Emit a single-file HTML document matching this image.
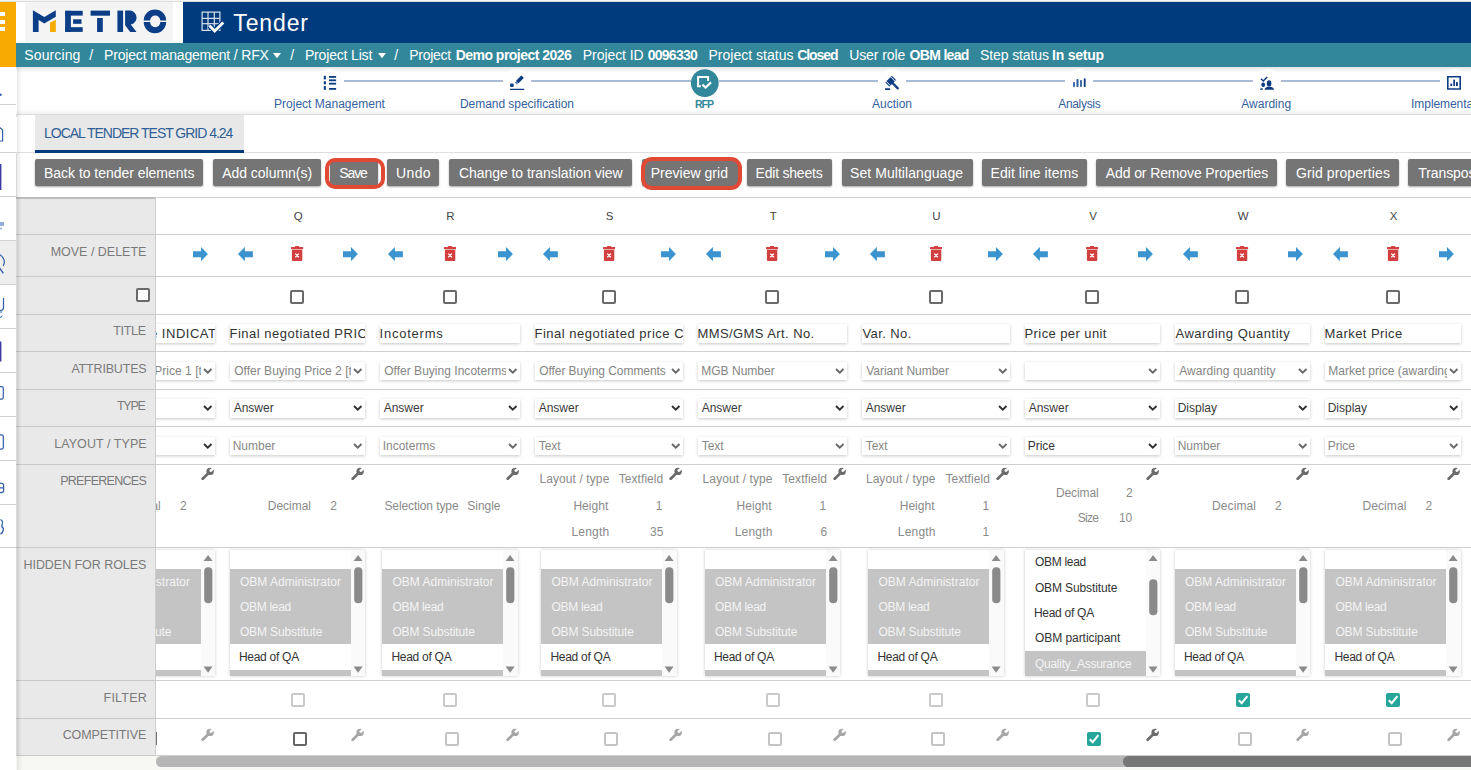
<!DOCTYPE html>
<html><head><meta charset="utf-8"><title>Tender</title>
<style>
html,body{margin:0;padding:0;width:1471px;height:770px;overflow:hidden;background:#fff;position:relative;font-family:"Liberation Sans", sans-serif}
.t{position:absolute;white-space:nowrap;line-height:1;font-family:"Liberation Sans", sans-serif}
</style></head><body>
<div style="position:absolute;left:0px;top:0px;width:1471px;height:1px;background:#f6f6f6"></div>
<div style="position:absolute;left:0px;top:1px;width:1471px;height:1px;background:#dcdcdc"></div>
<div style="position:absolute;left:0px;top:2px;width:16px;height:65px;background:#f8aa00"></div>
<div style="position:absolute;left:0px;top:12.4px;width:4.5px;height:4.1px;background:#fff"></div>
<div style="position:absolute;left:0px;top:19.7px;width:4.5px;height:4.1px;background:#fff"></div>
<div style="position:absolute;left:0px;top:27px;width:4.5px;height:4.1px;background:#fff"></div>
<div style="position:absolute;left:16px;top:2px;width:167px;height:41px;background:#fff"></div>
<div style="position:absolute;left:25px;top:2px;width:148px;height:40px;background:#f4f4f4"></div>
<svg style="position:absolute;left:0;top:0" width="200" height="45" viewBox="0 0 200 45">
<g fill="#0b3e86">
<polygon points="32.9,10.3 44.3,17 55.8,10.3 55.8,16.8 44.3,23.4 38.6,20.1 38.6,31.9 32.9,31.9"/>
<rect x="65.1" y="10.8" width="17.6" height="4.8"/>
<rect x="65.1" y="10.8" width="5.8" height="21.1"/>
<rect x="73.1" y="19.3" width="8.4" height="4.5"/>
<rect x="65.1" y="27.2" width="17.6" height="4.7"/>
<rect x="90.6" y="10.6" width="19.4" height="5.1"/>
<rect x="97.1" y="18" width="5.7" height="14"/>
<rect x="117.4" y="10.6" width="5.7" height="21.4"/>
<path d="M125.1,10.6 H130.5 A7.1,7.1 0 0 1 130.8,24.6 L136.5,32 H130.2 L125.1,25.2 Z M125.1,10.6"/>
<path d="M143.7,20.6 A11.25,11.1 0 0 1 166.2,20.6 H160.3 A5.1,5.1 0 0 0 150.1,20.6 Z"/>
<path d="M143.7,22.1 A11.25,11.1 0 0 0 166.2,22.1 H160.3 A5.1,5.1 0 0 1 150.1,22.1 Z"/>
</g>
<polygon fill="#f5ab00" points="50,22.4 55.8,19.7 55.8,31.9 50,31.9"/>
</svg>
<div style="position:absolute;left:183px;top:2px;width:1288px;height:41px;background:#003b7e"></div>
<svg style="position:absolute;left:200px;top:10px" width="26" height="24" viewBox="0 0 26 24">
<g stroke="#fff" stroke-width="1.2" fill="none" opacity="0.85">
<rect x="2.1" y="2.1" width="17.8" height="18.3"/>
<line x1="8" y1="2.1" x2="8" y2="20.4"/><line x1="14.3" y1="2.1" x2="14.3" y2="20.4"/>
<line x1="2.1" y1="8.4" x2="19.9" y2="8.4"/><line x1="2.1" y1="13.7" x2="19.9" y2="13.7"/>
</g>
<path d="M9.4,15.5 L14.7,20.9 L23.3,12.4" stroke="#003b7e" stroke-width="5" fill="none"/>
<path d="M9.4,15.5 L14.7,20.9 L23.3,12.4" stroke="#fff" stroke-width="2.8" fill="none"/>
</svg>
<div class="t" style="left:233.30px;top:12.00px;font-size:23px;color:#fff;letter-spacing:0.880px;">Tender</div>
<div style="position:absolute;left:16px;top:43px;width:1455px;height:24px;background:#33879b"></div>
<div class="t" style="left:24.30px;top:48.00px;font-size:14px;color:#fff;letter-spacing:0.114px;">Sourcing</div>
<div class="t" style="left:89.20px;top:48.00px;font-size:14px;color:#fff;">/</div>
<div class="t" style="left:104.00px;top:48.00px;font-size:14px;color:#fff;letter-spacing:-0.174px;">Project management / RFX</div>
<div class="t" style="left:290.30px;top:48.00px;font-size:14px;color:#fff;">/</div>
<div class="t" style="left:304.90px;top:48.00px;font-size:14px;color:#fff;letter-spacing:-0.164px;">Project List</div>
<div class="t" style="left:394.30px;top:48.00px;font-size:14px;color:#fff;">/</div>
<div class="t" style="left:409.20px;top:48.00px;font-size:14px;color:#fff;letter-spacing:-0.267px;">Project</div>
<div class="t" style="left:455.70px;top:48.00px;font-size:14px;color:#fff;font-weight:bold;letter-spacing:-0.525px;">Demo project 2026</div>
<div class="t" style="left:582.80px;top:48.00px;font-size:14px;color:#fff;letter-spacing:-0.067px;">Project ID</div>
<div class="t" style="left:647.70px;top:48.00px;font-size:14px;color:#fff;font-weight:bold;letter-spacing:-0.733px;">0096330</div>
<div class="t" style="left:708.50px;top:48.00px;font-size:14px;color:#fff;letter-spacing:0.015px;">Project status</div>
<div class="t" style="left:797.20px;top:48.00px;font-size:14px;color:#fff;font-weight:bold;letter-spacing:-1.080px;">Closed</div>
<div class="t" style="left:849.20px;top:48.00px;font-size:14px;color:#fff;letter-spacing:-0.100px;">User role</div>
<div class="t" style="left:909.60px;top:48.00px;font-size:14px;color:#fff;font-weight:bold;letter-spacing:-0.686px;">OBM lead</div>
<div class="t" style="left:980.10px;top:48.00px;font-size:14px;color:#fff;letter-spacing:-0.120px;">Step status</div>
<div class="t" style="left:1052.10px;top:48.00px;font-size:14px;color:#fff;font-weight:bold;letter-spacing:-0.229px;">In setup</div>
<svg style="position:absolute;left:273.3px;top:52.5px" width="8" height="5.5" viewBox="0 0 8 5.5"><polygon points="0,0 8,0 4,5.2" fill="#fff"/></svg>
<svg style="position:absolute;left:378px;top:52.5px" width="8" height="5.5" viewBox="0 0 8 5.5"><polygon points="0,0 8,0 4,5.2" fill="#fff"/></svg>
<div style="position:absolute;left:0px;top:67px;width:16px;height:703px;background:#fff"></div>
<div style="position:absolute;left:0px;top:240px;width:16px;height:44px;background:#eeeeee"></div>
<div style="position:absolute;left:0px;top:104px;width:16px;height:1px;background:#d2d2d2"></div>
<div style="position:absolute;left:0px;top:152px;width:16px;height:1px;background:#d2d2d2"></div>
<div style="position:absolute;left:0px;top:196px;width:16px;height:1px;background:#d2d2d2"></div>
<div style="position:absolute;left:0px;top:240px;width:16px;height:1px;background:#d2d2d2"></div>
<div style="position:absolute;left:0px;top:284px;width:16px;height:1px;background:#d2d2d2"></div>
<div style="position:absolute;left:0px;top:328px;width:16px;height:1px;background:#d2d2d2"></div>
<div style="position:absolute;left:0px;top:372px;width:16px;height:1px;background:#d2d2d2"></div>
<div style="position:absolute;left:0px;top:416px;width:16px;height:1px;background:#d2d2d2"></div>
<div style="position:absolute;left:0px;top:460px;width:16px;height:1px;background:#d2d2d2"></div>
<div style="position:absolute;left:0px;top:504px;width:16px;height:1px;background:#d2d2d2"></div>
<div style="position:absolute;left:0px;top:547px;width:16px;height:1px;background:#d2d2d2"></div>
<svg style="position:absolute;left:0;top:0" width="16" height="560" viewBox="0 0 16 560">
<g fill="none" stroke="#2f5ea8" stroke-width="1.2">
<circle cx="0.4" cy="94.7" r="1.3" fill="#2f5ea8" stroke="none"/>
<path d="M-1,126.8 L2.6,130 V141 H-1" stroke-linejoin="round"/>
<path d="M-1,222 H4 V226 H-1 Z" fill="#8fb0dd" stroke="none"/><path d="M-1,228.5 H2" stroke="#8fb0dd" stroke-width="1.5"/>
<path d="M-2,254.2 A8,8 0 0 1 3.2,266" /><path d="M-0.5,268 L3.4,273.3" stroke-width="1.4"/>
<path d="M3.5,298 V307.5 Q3.5,310.5 0.5,310.5 H-1"/><path d="M2.2,312 H-1 M2.2,315.5 Q2.2,317.5 -1,317.3" stroke-width="1"/>
<path d="M-1,386.6 H1.6 Q3.3,386.6 3.3,388.3 V397.6 Q3.3,399.2 1.6,399.2 H-1"/>
<path d="M-1,434.8 H1.6 Q3.3,434.8 3.3,436.5 V447.5 Q3.3,449.1 1.6,449.1 H-1"/>
<path d="M-1,483.2 Q3.6,483.2 3.6,485 V491.2 Q3.6,492.7 -1,492.7 M-1,487.8 H3.6"/>
<path d="M0.5,519.5 Q3.4,521 2.2,524 Q1,526.8 3.4,528.5 Q3.6,532 0.5,534.2"/>
</g>
<rect x="0" y="164" width="1.4" height="26" fill="#3c3aa3"/>
<rect x="0" y="341.5" width="1.4" height="20" fill="#3c3aa3"/>
</svg>
<div style="position:absolute;left:16px;top:67px;width:1px;height:703px;background:#d9d9d9"></div>
<div style="position:absolute;left:16px;top:67px;width:1455px;height:47px;background:#fff"></div>
<div style="position:absolute;left:16px;top:67px;width:1455px;height:6px;background:linear-gradient(to bottom, rgba(0,0,0,0.10), rgba(0,0,0,0))"></div>
<div style="position:absolute;left:330px;top:80px;width:1130px;height:2px;background:#a9bcd6"></div>
<div style="position:absolute;left:315.8px;top:69px;width:28px;height:28px;background:rgba(255,255,255,0.8);border-radius:50%"></div>
<div style="position:absolute;left:315.8px;top:78px;width:28px;height:6px;background:#fff"></div>
<div style="position:absolute;left:503px;top:69px;width:28px;height:28px;background:rgba(255,255,255,0.8);border-radius:50%"></div>
<div style="position:absolute;left:503px;top:78px;width:28px;height:6px;background:#fff"></div>
<div style="position:absolute;left:690.5px;top:69px;width:28px;height:28px;background:rgba(255,255,255,0.8);border-radius:50%"></div>
<div style="position:absolute;left:690.5px;top:78px;width:28px;height:6px;background:#fff"></div>
<div style="position:absolute;left:878px;top:69px;width:28px;height:28px;background:rgba(255,255,255,0.8);border-radius:50%"></div>
<div style="position:absolute;left:878px;top:78px;width:28px;height:6px;background:#fff"></div>
<div style="position:absolute;left:1065.2px;top:69px;width:28px;height:28px;background:rgba(255,255,255,0.8);border-radius:50%"></div>
<div style="position:absolute;left:1065.2px;top:78px;width:28px;height:6px;background:#fff"></div>
<div style="position:absolute;left:1253px;top:69px;width:28px;height:28px;background:rgba(255,255,255,0.8);border-radius:50%"></div>
<div style="position:absolute;left:1253px;top:78px;width:28px;height:6px;background:#fff"></div>
<div style="position:absolute;left:1440px;top:69px;width:28px;height:28px;background:rgba(255,255,255,0.8);border-radius:50%"></div>
<div style="position:absolute;left:1440px;top:78px;width:28px;height:6px;background:#fff"></div>
<div style="position:absolute;left:16px;top:114px;width:1455px;height:1.2px;background:#dcdcdc"></div>
<div style="position:absolute;left:16px;top:109px;width:1455px;height:5px;background:linear-gradient(to bottom, rgba(0,0,0,0), rgba(0,0,0,0.06))"></div>
<svg style="position:absolute;left:0;top:60px" width="1471" height="40" viewBox="0 60 1471 40">
<g fill="#0d3c82">
<rect x="323.8" y="75.8" width="2.1" height="3.6"/><rect x="323.8" y="81.2" width="2.1" height="3.2"/><rect x="323.8" y="86.1" width="2.1" height="3.7"/>
<rect x="329" y="76" width="7.1" height="1.8"/><rect x="329" y="79.4" width="7.1" height="1.6"/><rect x="329" y="83" width="7.1" height="1.6"/><rect x="329" y="88" width="7.1" height="1.8"/>
<rect x="329" y="81" width="7.1" height="2" fill="#c9d5e4"/>
<rect x="510.1" y="83.5" width="3.6" height="3.5" rx="1"/>
<g transform="translate(519.2,80) rotate(-45)"><rect x="-2.8" y="-1.8" width="7.6" height="3.6" rx="0.8"/><rect x="-4.9" y="-1.3" width="2.3" height="2.6" fill="#5d7fb3"/></g>
<rect x="510" y="88.8" width="14.4" height="1.3" rx="0.6"/>
<g transform="translate(890.6,81.2) rotate(-45)"><rect x="-4.7" y="-3" width="9.4" height="6" rx="0.6"/><rect x="-1.1" y="2" width="2.3" height="9.2" rx="1"/></g>
<g transform="translate(890.6,81.2) rotate(-45)" fill="#fff"><rect x="-3.5" y="-3.2" width="0.7" height="6.4"/><rect x="2.8" y="-3.2" width="0.7" height="6.4"/></g>
<rect x="885" y="88.2" width="5.2" height="1.7" rx="0.5"/>
<rect x="1073.1" y="82" width="1.8" height="4.9" rx="0.6" fill="#2f5c9c"/><rect x="1076.5" y="79.1" width="2" height="7.8" rx="0.6" fill="#2f5c9c"/><rect x="1080.1" y="80.1" width="1.8" height="6.8" rx="0.6" fill="#2f5c9c"/><rect x="1083.8" y="78.3" width="1.8" height="8.6" rx="0.6"/>
<path d="M1261,78.8 L1263.3,81 L1267.2,77" stroke="#0d3c82" stroke-width="1.5" fill="none"/>
<ellipse cx="1263.2" cy="84.8" rx="1.9" ry="2.2"/>
<path d="M1259.8,89.8 Q1260,88 1262.4,87.9 L1263,89.8 Z"/>
<ellipse cx="1269.1" cy="83.4" rx="2.3" ry="3.2"/>
<path d="M1264.6,89.8 Q1264.8,86.8 1269.2,86.7 Q1273.8,86.8 1274,89.8 Z"/>
<path d="M1447,76 H1461 V89.8 H1447 Z M1448.6,77.6 V88.2 H1459.4 V77.6 Z" fill-rule="evenodd"/>
<rect x="1450.4" y="83.6" width="1.8" height="2.3" rx="0.5"/><rect x="1453.3" y="79.4" width="1.7" height="6.5" rx="0.5"/><rect x="1456" y="82" width="1.9" height="3.9" rx="0.5"/>
</g>
<circle cx="704.8" cy="83.1" r="13.9" fill="#33879b"/>
<path d="M700.9,86.2 H698.1 V77 H708.1 V81" stroke="#fff" stroke-width="2" fill="none"/>
<path d="M702.4,84.6 L705.6,87.6 L711,82.4" stroke="#fff" stroke-width="2.2" fill="none"/>
</svg>
<div class="t" style="left:274.00px;top:98.00px;font-size:12px;color:#3561a0;letter-spacing:0.012px;">Project Management</div>
<div class="t" style="left:459.90px;top:98.00px;font-size:12px;color:#3561a0;letter-spacing:-0.032px;">Demand specification</div>
<div class="t" style="left:872.00px;top:98.00px;font-size:12px;color:#3561a0;">Auction</div>
<div class="t" style="left:1058.20px;top:98.00px;font-size:12px;color:#3561a0;letter-spacing:-0.314px;">Analysis</div>
<div class="t" style="left:1241.30px;top:98.00px;font-size:12px;color:#3561a0;">Awarding</div>
<div class="t" style="left:695.00px;top:99.00px;font-size:10.5px;color:#33879b;font-weight:bold;letter-spacing:-1.000px;">RFP</div>
<div class="t" style="left:1411.10px;top:98.00px;font-size:12px;color:#3561a0;letter-spacing:-0.071px;">Implementation</div>
<div style="position:absolute;left:16px;top:117px;width:1455px;height:36px;background:#fff"></div>
<div style="position:absolute;left:35px;top:115.3px;width:208.6px;height:35px;background:#e8e8e8"></div>
<div style="position:absolute;left:16px;top:152px;width:1455px;height:1px;background:#dedede"></div>
<div style="position:absolute;left:35px;top:150px;width:208.6px;height:2.6px;background:#003b7e"></div>
<div class="t" style="left:44.00px;top:126.00px;font-size:14px;color:#2f5f96;letter-spacing:-1.015px;">LOCAL TENDER TEST GRID 4.24</div>
<div style="position:absolute;left:34.8px;top:159.2px;width:168.4px;height:26.8px;background:#757575;border-radius:2px;box-shadow:0 1px 2px rgba(0,0,0,0.35)"></div>
<div class="t" style="left:44.00px;top:166.00px;font-size:14px;color:#fff;letter-spacing:-0.027px;">Back to tender elements</div>
<div style="position:absolute;left:213.1px;top:159.2px;width:107.9px;height:26.8px;background:#757575;border-radius:2px;box-shadow:0 1px 2px rgba(0,0,0,0.35)"></div>
<div class="t" style="left:222.20px;top:166.00px;font-size:14px;color:#fff;letter-spacing:-0.033px;">Add column(s)</div>
<div style="position:absolute;left:330.4px;top:159.2px;width:47.4px;height:26.8px;background:#757575;border-radius:2px;box-shadow:0 1px 2px rgba(0,0,0,0.35)"></div>
<div class="t" style="left:339.30px;top:166.00px;font-size:14px;color:#fff;letter-spacing:-1.133px;">Save</div>
<div style="position:absolute;left:387.1px;top:159.2px;width:51.9px;height:26.8px;background:#757575;border-radius:2px;box-shadow:0 1px 2px rgba(0,0,0,0.35)"></div>
<div class="t" style="left:396.10px;top:166.00px;font-size:14px;color:#fff;letter-spacing:0.333px;">Undo</div>
<div style="position:absolute;left:448.8px;top:159.2px;width:183.2px;height:26.8px;background:#757575;border-radius:2px;box-shadow:0 1px 2px rgba(0,0,0,0.35)"></div>
<div class="t" style="left:458.90px;top:166.00px;font-size:14px;color:#fff;letter-spacing:-0.048px;">Change to translation view</div>
<div style="position:absolute;left:642px;top:159.2px;width:95.8px;height:26.8px;background:#757575;border-radius:2px;box-shadow:0 1px 2px rgba(0,0,0,0.35)"></div>
<div class="t" style="left:650.70px;top:166.00px;font-size:14px;color:#fff;letter-spacing:0.018px;">Preview grid</div>
<div style="position:absolute;left:747.2px;top:159.2px;width:84.8px;height:26.8px;background:#757575;border-radius:2px;box-shadow:0 1px 2px rgba(0,0,0,0.35)"></div>
<div class="t" style="left:755.60px;top:166.00px;font-size:14px;color:#fff;letter-spacing:-0.220px;">Edit sheets</div>
<div style="position:absolute;left:841.5px;top:159.2px;width:131.1px;height:26.8px;background:#757575;border-radius:2px;box-shadow:0 1px 2px rgba(0,0,0,0.35)"></div>
<div class="t" style="left:850.00px;top:166.00px;font-size:14px;color:#fff;letter-spacing:0.062px;">Set Multilanguage</div>
<div style="position:absolute;left:982.1px;top:159.2px;width:104.7px;height:26.8px;background:#757575;border-radius:2px;box-shadow:0 1px 2px rgba(0,0,0,0.35)"></div>
<div class="t" style="left:990.60px;top:166.00px;font-size:14px;color:#fff;letter-spacing:0.029px;">Edit line items</div>
<div style="position:absolute;left:1096.3px;top:159.2px;width:180.5px;height:26.8px;background:#757575;border-radius:2px;box-shadow:0 1px 2px rgba(0,0,0,0.35)"></div>
<div class="t" style="left:1105.80px;top:166.00px;font-size:14px;color:#fff;letter-spacing:-0.113px;">Add or Remove Properties</div>
<div style="position:absolute;left:1286.3px;top:159.2px;width:112.5px;height:26.8px;background:#757575;border-radius:2px;box-shadow:0 1px 2px rgba(0,0,0,0.35)"></div>
<div class="t" style="left:1296.10px;top:166.00px;font-size:14px;color:#fff;letter-spacing:0.086px;">Grid properties</div>
<div style="position:absolute;left:1408.3px;top:159.2px;width:151.7px;height:26.8px;background:#757575;border-radius:2px;box-shadow:0 1px 2px rgba(0,0,0,0.35)"></div>
<div class="t" style="left:1418.30px;top:166.00px;font-size:14px;color:#fff;letter-spacing:-0.092px;">Transpose</div>
<div style="position:absolute;left:325.2px;top:158.1px;width:59.5px;height:30.9px;box-sizing:border-box;border:4px solid #e04a35;border-radius:10px"></div>
<div style="position:absolute;left:641.2px;top:157.1px;width:100.4px;height:33.4px;box-sizing:border-box;border:4px solid #e04a35;border-radius:11px"></div>
<div style="position:absolute;left:16px;top:197px;width:1455px;height:558px;background:#fff"></div>
<div style="position:absolute;left:16px;top:197px;width:1455px;height:1.3px;background:#cfcfcf"></div>
<div style="position:absolute;left:16px;top:234px;width:1455px;height:1.3px;background:#cfcfcf"></div>
<div style="position:absolute;left:16px;top:276px;width:1455px;height:1.3px;background:#cfcfcf"></div>
<div style="position:absolute;left:16px;top:314px;width:1455px;height:1.3px;background:#cfcfcf"></div>
<div style="position:absolute;left:16px;top:351px;width:1455px;height:1.3px;background:#cfcfcf"></div>
<div style="position:absolute;left:16px;top:389px;width:1455px;height:1.3px;background:#cfcfcf"></div>
<div style="position:absolute;left:16px;top:426px;width:1455px;height:1.3px;background:#cfcfcf"></div>
<div style="position:absolute;left:16px;top:464px;width:1455px;height:1.3px;background:#cfcfcf"></div>
<div style="position:absolute;left:16px;top:547px;width:1455px;height:1.3px;background:#cfcfcf"></div>
<div style="position:absolute;left:16px;top:680px;width:1455px;height:1.3px;background:#cfcfcf"></div>
<div style="position:absolute;left:16px;top:718px;width:1455px;height:1.3px;background:#cfcfcf"></div>
<div style="position:absolute;left:16px;top:755px;width:1455px;height:1.3px;background:#cfcfcf"></div>
<svg style="position:absolute;left:88.1px;top:246.7px" width="15" height="14.2" viewBox="0 0 15 14.2"><path d="M0,7.1 L6.9,0 L6.9,4.3 L14.9,4.3 L14.9,10.3 L6.9,10.3 L6.9,14.2 Z" fill="#3b93cf"/></svg>
<svg style="position:absolute;left:141.4px;top:246.2px" width="12.2" height="15.2" viewBox="0 0 12.2 15.2"><rect x="4" y="0" width="4.2" height="1.5" rx="0.6" fill="#d23f3f"/><rect x="0" y="0.9" width="12.2" height="2.3" rx="0.8" fill="#d23f3f"/><path d="M0.9,3.7 H11.3 V13.6 Q11.3,15.2 9.7,15.2 H2.5 Q0.9,15.2 0.9,13.6 Z" fill="#d23f3f"/><path d="M4.3,7.6 L7.9,11.2 M7.9,7.6 L4.3,11.2" stroke="#fff" stroke-width="1.3"/></svg>
<svg style="position:absolute;left:192.6px;top:246.7px" width="15" height="14.2" viewBox="0 0 15 14.2"><path d="M14.9,7.1 L8,0 L8,4.3 L0,4.3 L0,10.3 L8,10.3 L8,14.2 Z" fill="#3b93cf"/></svg>
<div style="position:absolute;left:140.3px;top:289.6px;width:14px;height:14px;box-sizing:border-box;border:2px solid #6a6a6a;border-radius:2px;background:#fff"></div>
<div style="position:absolute;left:80px;top:324.4px;width:135px;height:18.7px;background:#fff;box-shadow:0 1px 3px rgba(0,0,0,0.22);overflow:hidden">
<div style="position:absolute;left:0;top:0;width:135px;height:18.7px;overflow:hidden">
<div class="t" style="left:70.00px;top:2.60px;font-size:13px;color:#333;letter-spacing:0.511px;">e INDICATIVE</div>
</div>
</div>
<div style="position:absolute;left:80px;top:362.2px;width:135px;height:18px;background:#fff;box-shadow:0 1px 3px rgba(0,0,0,0.22);overflow:hidden">
<div style="position:absolute;left:0;top:0;width:121px;height:18px;overflow:hidden">
<div class="t" style="left:4.20px;top:2.80px;font-size:12px;color:#858585;letter-spacing:0.023px;">Offer Buying Price 1 [t</div>
</div>
<svg style="position:absolute;left:123px;top:5.9px" width="9.5" height="6" viewBox="0 0 9.5 6"><path d="M1,1 L4.75,4.6 L8.5,1" stroke="#6a6a6a" stroke-width="2" fill="none"/></svg>
</div>
<div style="position:absolute;left:80px;top:399px;width:135px;height:19px;background:#fff;box-shadow:0 1px 3px rgba(0,0,0,0.22);overflow:hidden">
<svg style="position:absolute;left:123px;top:6.4px" width="9.5" height="6" viewBox="0 0 9.5 6"><path d="M1,1 L4.75,4.6 L8.5,1" stroke="#333" stroke-width="2" fill="none"/></svg>
</div>
<div style="position:absolute;left:80px;top:436.8px;width:135px;height:18.6px;background:#fff;box-shadow:0 1px 3px rgba(0,0,0,0.22);overflow:hidden">
<svg style="position:absolute;left:123px;top:6.2px" width="9.5" height="6" viewBox="0 0 9.5 6"><path d="M1,1 L4.75,4.6 L8.5,1" stroke="#333" stroke-width="2" fill="none"/></svg>
</div>
<svg style="position:absolute;left:200.8px;top:466.8px" width="13.5" height="13.5" viewBox="0 0 13.5 13.5"><path d="M1.7,11.8 L7,6.5" stroke="#6b6b6b" stroke-width="2.7" stroke-linecap="round"/><circle cx="9.1" cy="4.4" r="3.7" fill="#6b6b6b"/><circle cx="9.9" cy="3.6" r="1.45" fill="#fff"/><rect x="-1.2" y="-4.5" width="2.4" height="4.5" fill="#fff" transform="translate(9.9,3.6) rotate(45)"/></svg>
<div style="position:absolute;left:79.9px;top:549.7px;width:135.2px;height:126.7px;background:#fff;box-shadow:0 0 3px rgba(0,0,0,0.22);overflow:hidden">
<div style="position:absolute;right:0;top:0;width:14.2px;height:126.7px;background:#fafafa"></div>
<div style="position:absolute;left:0;top:19.1px;width:121px;height:75.5px;background:#c4c4c4"></div>
<div style="position:absolute;left:0;top:120.5px;width:121px;height:8px;background:#c4c4c4"></div>
<div class="t" style="left:9.00px;top:26.30px;font-size:12px;color:#f4f4f4;letter-spacing:0.025px;">OBM Administrator</div>
<div class="t" style="left:9.00px;top:51.30px;font-size:12px;color:#f4f4f4;letter-spacing:-0.286px;">OBM lead</div>
<div class="t" style="left:9.00px;top:76.30px;font-size:12px;color:#f4f4f4;letter-spacing:-0.123px;">OBM Substitute</div>
<div class="t" style="left:8.00px;top:101.30px;font-size:12px;color:#333;letter-spacing:-0.267px;">Head of QA</div>
<svg style="position:absolute;left:121px;top:0" width="14.2" height="126.7" viewBox="0 0 14.2 126.7"><polygon points="2.6,11 7.1,4.9 11.6,11" fill="#8a8a8a"/><polygon points="2.6,116.6 7.1,122.8 11.6,116.6" fill="#8a8a8a"/><rect x="3.2" y="17.2" width="8.2" height="36" rx="4" fill="#8a8a8a"/></svg>
</div>
<div style="position:absolute;left:140.5px;top:693.2px;width:14px;height:14px;box-sizing:border-box;border:2px solid #c9c9c9;border-radius:2px;background:#fff"></div>
<div style="position:absolute;left:142.6px;top:731.8px;width:14px;height:14px;box-sizing:border-box;border:2px solid #c4c4c4;border-radius:2px;background:#fff"></div>
<svg style="position:absolute;left:200.8px;top:728.4px" width="13.5" height="13.5" viewBox="0 0 13.5 13.5"><path d="M1.7,11.8 L7,6.5" stroke="#a6a6a6" stroke-width="2.7" stroke-linecap="round"/><circle cx="9.1" cy="4.4" r="3.7" fill="#a6a6a6"/><circle cx="9.9" cy="3.6" r="1.45" fill="#fff"/><rect x="-1.2" y="-4.5" width="2.4" height="4.5" fill="#fff" transform="translate(9.9,3.6) rotate(45)"/></svg>
<div class="t" style="left:293.80px;top:211.00px;font-size:11.5px;color:#444;">Q</div>
<svg style="position:absolute;left:238.1px;top:246.7px" width="15" height="14.2" viewBox="0 0 15 14.2"><path d="M0,7.1 L6.9,0 L6.9,4.3 L14.9,4.3 L14.9,10.3 L6.9,10.3 L6.9,14.2 Z" fill="#3b93cf"/></svg>
<svg style="position:absolute;left:291.4px;top:246.2px" width="12.2" height="15.2" viewBox="0 0 12.2 15.2"><rect x="4" y="0" width="4.2" height="1.5" rx="0.6" fill="#d23f3f"/><rect x="0" y="0.9" width="12.2" height="2.3" rx="0.8" fill="#d23f3f"/><path d="M0.9,3.7 H11.3 V13.6 Q11.3,15.2 9.7,15.2 H2.5 Q0.9,15.2 0.9,13.6 Z" fill="#d23f3f"/><path d="M4.3,7.6 L7.9,11.2 M7.9,7.6 L4.3,11.2" stroke="#fff" stroke-width="1.3"/></svg>
<svg style="position:absolute;left:342.6px;top:246.7px" width="15" height="14.2" viewBox="0 0 15 14.2"><path d="M14.9,7.1 L8,0 L8,4.3 L0,4.3 L0,10.3 L8,10.3 L8,14.2 Z" fill="#3b93cf"/></svg>
<div style="position:absolute;left:290.3px;top:289.6px;width:14px;height:14px;box-sizing:border-box;border:2px solid #6a6a6a;border-radius:2px;background:#fff"></div>
<div style="position:absolute;left:230px;top:324.4px;width:135px;height:18.7px;background:#fff;box-shadow:0 1px 3px rgba(0,0,0,0.22);overflow:hidden">
<div style="position:absolute;left:0;top:0;width:135px;height:18.7px;overflow:hidden">
<div class="t" style="left:-0.50px;top:2.60px;font-size:13px;color:#333;letter-spacing:0.511px;">Final negotiated PRICE</div>
</div>
</div>
<div style="position:absolute;left:230px;top:362.2px;width:135px;height:18px;background:#fff;box-shadow:0 1px 3px rgba(0,0,0,0.22);overflow:hidden">
<div style="position:absolute;left:0;top:0;width:121px;height:18px;overflow:hidden">
<div class="t" style="left:4.20px;top:2.80px;font-size:12px;color:#858585;letter-spacing:0.023px;">Offer Buying Price 2 [t</div>
</div>
<svg style="position:absolute;left:123px;top:5.9px" width="9.5" height="6" viewBox="0 0 9.5 6"><path d="M1,1 L4.75,4.6 L8.5,1" stroke="#6a6a6a" stroke-width="2" fill="none"/></svg>
</div>
<div style="position:absolute;left:230px;top:399px;width:135px;height:19px;background:#fff;box-shadow:0 1px 3px rgba(0,0,0,0.22);overflow:hidden">
<div style="position:absolute;left:0;top:0;width:121px;height:19px;overflow:hidden">
<div class="t" style="left:3.70px;top:3.00px;font-size:12px;color:#3a3a3a;">Answer</div>
</div>
<svg style="position:absolute;left:123px;top:6.4px" width="9.5" height="6" viewBox="0 0 9.5 6"><path d="M1,1 L4.75,4.6 L8.5,1" stroke="#333" stroke-width="2" fill="none"/></svg>
</div>
<div style="position:absolute;left:230px;top:436.8px;width:135px;height:18.6px;background:#fff;box-shadow:0 1px 3px rgba(0,0,0,0.22);overflow:hidden">
<div style="position:absolute;left:0;top:0;width:121px;height:18.6px;overflow:hidden">
<div class="t" style="left:2.70px;top:3.20px;font-size:12px;color:#888;">Number</div>
</div>
<svg style="position:absolute;left:123px;top:6.2px" width="9.5" height="6" viewBox="0 0 9.5 6"><path d="M1,1 L4.75,4.6 L8.5,1" stroke="#6a6a6a" stroke-width="2" fill="none"/></svg>
</div>
<svg style="position:absolute;left:350.8px;top:466.8px" width="13.5" height="13.5" viewBox="0 0 13.5 13.5"><path d="M1.7,11.8 L7,6.5" stroke="#6b6b6b" stroke-width="2.7" stroke-linecap="round"/><circle cx="9.1" cy="4.4" r="3.7" fill="#6b6b6b"/><circle cx="9.9" cy="3.6" r="1.45" fill="#fff"/><rect x="-1.2" y="-4.5" width="2.4" height="4.5" fill="#fff" transform="translate(9.9,3.6) rotate(45)"/></svg>
<div style="position:absolute;left:229.9px;top:549.7px;width:135.2px;height:126.7px;background:#fff;box-shadow:0 0 3px rgba(0,0,0,0.22);overflow:hidden">
<div style="position:absolute;right:0;top:0;width:14.2px;height:126.7px;background:#fafafa"></div>
<div style="position:absolute;left:0;top:19.1px;width:121px;height:75.5px;background:#c4c4c4"></div>
<div style="position:absolute;left:0;top:120.5px;width:121px;height:8px;background:#c4c4c4"></div>
<div class="t" style="left:10.00px;top:26.30px;font-size:12px;color:#f4f4f4;letter-spacing:0.025px;">OBM Administrator</div>
<div class="t" style="left:10.00px;top:51.30px;font-size:12px;color:#f4f4f4;letter-spacing:-0.286px;">OBM lead</div>
<div class="t" style="left:10.00px;top:76.30px;font-size:12px;color:#f4f4f4;letter-spacing:-0.123px;">OBM Substitute</div>
<div class="t" style="left:9.00px;top:101.30px;font-size:12px;color:#333;letter-spacing:-0.267px;">Head of QA</div>
<svg style="position:absolute;left:121px;top:0" width="14.2" height="126.7" viewBox="0 0 14.2 126.7"><polygon points="2.6,11 7.1,4.9 11.6,11" fill="#8a8a8a"/><polygon points="2.6,116.6 7.1,122.8 11.6,116.6" fill="#8a8a8a"/><rect x="3.2" y="17.2" width="8.2" height="36" rx="4" fill="#8a8a8a"/></svg>
</div>
<div style="position:absolute;left:290.5px;top:693.2px;width:14px;height:14px;box-sizing:border-box;border:2px solid #c9c9c9;border-radius:2px;background:#fff"></div>
<div style="position:absolute;left:292.6px;top:731.8px;width:14px;height:14px;box-sizing:border-box;border:2px solid #666;border-radius:2px;background:#fff"></div>
<svg style="position:absolute;left:350.8px;top:728.4px" width="13.5" height="13.5" viewBox="0 0 13.5 13.5"><path d="M1.7,11.8 L7,6.5" stroke="#a6a6a6" stroke-width="2.7" stroke-linecap="round"/><circle cx="9.1" cy="4.4" r="3.7" fill="#a6a6a6"/><circle cx="9.9" cy="3.6" r="1.45" fill="#fff"/><rect x="-1.2" y="-4.5" width="2.4" height="4.5" fill="#fff" transform="translate(9.9,3.6) rotate(45)"/></svg>
<div class="t" style="left:446.30px;top:211.00px;font-size:11.5px;color:#444;">R</div>
<svg style="position:absolute;left:388.1px;top:246.7px" width="15" height="14.2" viewBox="0 0 15 14.2"><path d="M0,7.1 L6.9,0 L6.9,4.3 L14.9,4.3 L14.9,10.3 L6.9,10.3 L6.9,14.2 Z" fill="#3b93cf"/></svg>
<svg style="position:absolute;left:443.9px;top:246.2px" width="12.2" height="15.2" viewBox="0 0 12.2 15.2"><rect x="4" y="0" width="4.2" height="1.5" rx="0.6" fill="#d23f3f"/><rect x="0" y="0.9" width="12.2" height="2.3" rx="0.8" fill="#d23f3f"/><path d="M0.9,3.7 H11.3 V13.6 Q11.3,15.2 9.7,15.2 H2.5 Q0.9,15.2 0.9,13.6 Z" fill="#d23f3f"/><path d="M4.3,7.6 L7.9,11.2 M7.9,7.6 L4.3,11.2" stroke="#fff" stroke-width="1.3"/></svg>
<svg style="position:absolute;left:497.6px;top:246.7px" width="15" height="14.2" viewBox="0 0 15 14.2"><path d="M14.9,7.1 L8,0 L8,4.3 L0,4.3 L0,10.3 L8,10.3 L8,14.2 Z" fill="#3b93cf"/></svg>
<div style="position:absolute;left:442.8px;top:289.6px;width:14px;height:14px;box-sizing:border-box;border:2px solid #6a6a6a;border-radius:2px;background:#fff"></div>
<div style="position:absolute;left:380px;top:324.4px;width:140px;height:18.7px;background:#fff;box-shadow:0 1px 3px rgba(0,0,0,0.22);overflow:hidden">
<div style="position:absolute;left:0;top:0;width:140px;height:18.7px;overflow:hidden">
<div class="t" style="left:-0.50px;top:2.60px;font-size:13px;color:#333;letter-spacing:0.775px;">Incoterms</div>
</div>
</div>
<div style="position:absolute;left:380px;top:362.2px;width:140px;height:18px;background:#fff;box-shadow:0 1px 3px rgba(0,0,0,0.22);overflow:hidden">
<div style="position:absolute;left:0;top:0;width:126px;height:18px;overflow:hidden">
<div class="t" style="left:4.20px;top:2.80px;font-size:12px;color:#858585;letter-spacing:0.023px;">Offer Buying Incoterms</div>
</div>
<svg style="position:absolute;left:128px;top:5.9px" width="9.5" height="6" viewBox="0 0 9.5 6"><path d="M1,1 L4.75,4.6 L8.5,1" stroke="#6a6a6a" stroke-width="2" fill="none"/></svg>
</div>
<div style="position:absolute;left:380px;top:399px;width:140px;height:19px;background:#fff;box-shadow:0 1px 3px rgba(0,0,0,0.22);overflow:hidden">
<div style="position:absolute;left:0;top:0;width:126px;height:19px;overflow:hidden">
<div class="t" style="left:3.70px;top:3.00px;font-size:12px;color:#3a3a3a;">Answer</div>
</div>
<svg style="position:absolute;left:128px;top:6.4px" width="9.5" height="6" viewBox="0 0 9.5 6"><path d="M1,1 L4.75,4.6 L8.5,1" stroke="#333" stroke-width="2" fill="none"/></svg>
</div>
<div style="position:absolute;left:380px;top:436.8px;width:140px;height:18.6px;background:#fff;box-shadow:0 1px 3px rgba(0,0,0,0.22);overflow:hidden">
<div style="position:absolute;left:0;top:0;width:126px;height:18.6px;overflow:hidden">
<div class="t" style="left:2.70px;top:3.20px;font-size:12px;color:#888;">Incoterms</div>
</div>
<svg style="position:absolute;left:128px;top:6.2px" width="9.5" height="6" viewBox="0 0 9.5 6"><path d="M1,1 L4.75,4.6 L8.5,1" stroke="#6a6a6a" stroke-width="2" fill="none"/></svg>
</div>
<svg style="position:absolute;left:505.8px;top:466.8px" width="13.5" height="13.5" viewBox="0 0 13.5 13.5"><path d="M1.7,11.8 L7,6.5" stroke="#6b6b6b" stroke-width="2.7" stroke-linecap="round"/><circle cx="9.1" cy="4.4" r="3.7" fill="#6b6b6b"/><circle cx="9.9" cy="3.6" r="1.45" fill="#fff"/><rect x="-1.2" y="-4.5" width="2.4" height="4.5" fill="#fff" transform="translate(9.9,3.6) rotate(45)"/></svg>
<div style="position:absolute;left:382.4px;top:549.7px;width:135.2px;height:126.7px;background:#fff;box-shadow:0 0 3px rgba(0,0,0,0.22);overflow:hidden">
<div style="position:absolute;right:0;top:0;width:14.2px;height:126.7px;background:#fafafa"></div>
<div style="position:absolute;left:0;top:19.1px;width:121px;height:75.5px;background:#c4c4c4"></div>
<div style="position:absolute;left:0;top:120.5px;width:121px;height:8px;background:#c4c4c4"></div>
<div class="t" style="left:10.00px;top:26.30px;font-size:12px;color:#f4f4f4;letter-spacing:0.025px;">OBM Administrator</div>
<div class="t" style="left:10.00px;top:51.30px;font-size:12px;color:#f4f4f4;letter-spacing:-0.286px;">OBM lead</div>
<div class="t" style="left:10.00px;top:76.30px;font-size:12px;color:#f4f4f4;letter-spacing:-0.123px;">OBM Substitute</div>
<div class="t" style="left:9.00px;top:101.30px;font-size:12px;color:#333;letter-spacing:-0.267px;">Head of QA</div>
<svg style="position:absolute;left:121px;top:0" width="14.2" height="126.7" viewBox="0 0 14.2 126.7"><polygon points="2.6,11 7.1,4.9 11.6,11" fill="#8a8a8a"/><polygon points="2.6,116.6 7.1,122.8 11.6,116.6" fill="#8a8a8a"/><rect x="3.2" y="17.2" width="8.2" height="36" rx="4" fill="#8a8a8a"/></svg>
</div>
<div style="position:absolute;left:443px;top:693.2px;width:14px;height:14px;box-sizing:border-box;border:2px solid #c9c9c9;border-radius:2px;background:#fff"></div>
<div style="position:absolute;left:445.1px;top:731.8px;width:14px;height:14px;box-sizing:border-box;border:2px solid #c4c4c4;border-radius:2px;background:#fff"></div>
<svg style="position:absolute;left:505.8px;top:728.4px" width="13.5" height="13.5" viewBox="0 0 13.5 13.5"><path d="M1.7,11.8 L7,6.5" stroke="#a6a6a6" stroke-width="2.7" stroke-linecap="round"/><circle cx="9.1" cy="4.4" r="3.7" fill="#a6a6a6"/><circle cx="9.9" cy="3.6" r="1.45" fill="#fff"/><rect x="-1.2" y="-4.5" width="2.4" height="4.5" fill="#fff" transform="translate(9.9,3.6) rotate(45)"/></svg>
<div class="t" style="left:605.80px;top:211.00px;font-size:11.5px;color:#444;">S</div>
<svg style="position:absolute;left:543.1px;top:246.7px" width="15" height="14.2" viewBox="0 0 15 14.2"><path d="M0,7.1 L6.9,0 L6.9,4.3 L14.9,4.3 L14.9,10.3 L6.9,10.3 L6.9,14.2 Z" fill="#3b93cf"/></svg>
<svg style="position:absolute;left:602.9px;top:246.2px" width="12.2" height="15.2" viewBox="0 0 12.2 15.2"><rect x="4" y="0" width="4.2" height="1.5" rx="0.6" fill="#d23f3f"/><rect x="0" y="0.9" width="12.2" height="2.3" rx="0.8" fill="#d23f3f"/><path d="M0.9,3.7 H11.3 V13.6 Q11.3,15.2 9.7,15.2 H2.5 Q0.9,15.2 0.9,13.6 Z" fill="#d23f3f"/><path d="M4.3,7.6 L7.9,11.2 M7.9,7.6 L4.3,11.2" stroke="#fff" stroke-width="1.3"/></svg>
<svg style="position:absolute;left:660.6px;top:246.7px" width="15" height="14.2" viewBox="0 0 15 14.2"><path d="M14.9,7.1 L8,0 L8,4.3 L0,4.3 L0,10.3 L8,10.3 L8,14.2 Z" fill="#3b93cf"/></svg>
<div style="position:absolute;left:601.8px;top:289.6px;width:14px;height:14px;box-sizing:border-box;border:2px solid #6a6a6a;border-radius:2px;background:#fff"></div>
<div style="position:absolute;left:535px;top:324.4px;width:148px;height:18.7px;background:#fff;box-shadow:0 1px 3px rgba(0,0,0,0.22);overflow:hidden">
<div style="position:absolute;left:0;top:0;width:148px;height:18.7px;overflow:hidden">
<div class="t" style="left:-0.50px;top:2.60px;font-size:13px;color:#333;letter-spacing:0.511px;">Final negotiated price CC</div>
</div>
</div>
<div style="position:absolute;left:535px;top:362.2px;width:148px;height:18px;background:#fff;box-shadow:0 1px 3px rgba(0,0,0,0.22);overflow:hidden">
<div style="position:absolute;left:0;top:0;width:134px;height:18px;overflow:hidden">
<div class="t" style="left:4.20px;top:2.80px;font-size:12px;color:#858585;letter-spacing:-0.060px;">Offer Buying Comments</div>
</div>
<svg style="position:absolute;left:136px;top:5.9px" width="9.5" height="6" viewBox="0 0 9.5 6"><path d="M1,1 L4.75,4.6 L8.5,1" stroke="#6a6a6a" stroke-width="2" fill="none"/></svg>
</div>
<div style="position:absolute;left:535px;top:399px;width:148px;height:19px;background:#fff;box-shadow:0 1px 3px rgba(0,0,0,0.22);overflow:hidden">
<div style="position:absolute;left:0;top:0;width:134px;height:19px;overflow:hidden">
<div class="t" style="left:3.70px;top:3.00px;font-size:12px;color:#3a3a3a;">Answer</div>
</div>
<svg style="position:absolute;left:136px;top:6.4px" width="9.5" height="6" viewBox="0 0 9.5 6"><path d="M1,1 L4.75,4.6 L8.5,1" stroke="#333" stroke-width="2" fill="none"/></svg>
</div>
<div style="position:absolute;left:535px;top:436.8px;width:148px;height:18.6px;background:#fff;box-shadow:0 1px 3px rgba(0,0,0,0.22);overflow:hidden">
<div style="position:absolute;left:0;top:0;width:134px;height:18.6px;overflow:hidden">
<div class="t" style="left:3.70px;top:3.20px;font-size:12px;color:#888;">Text</div>
</div>
<svg style="position:absolute;left:136px;top:6.2px" width="9.5" height="6" viewBox="0 0 9.5 6"><path d="M1,1 L4.75,4.6 L8.5,1" stroke="#6a6a6a" stroke-width="2" fill="none"/></svg>
</div>
<svg style="position:absolute;left:668.8px;top:466.8px" width="13.5" height="13.5" viewBox="0 0 13.5 13.5"><path d="M1.7,11.8 L7,6.5" stroke="#6b6b6b" stroke-width="2.7" stroke-linecap="round"/><circle cx="9.1" cy="4.4" r="3.7" fill="#6b6b6b"/><circle cx="9.9" cy="3.6" r="1.45" fill="#fff"/><rect x="-1.2" y="-4.5" width="2.4" height="4.5" fill="#fff" transform="translate(9.9,3.6) rotate(45)"/></svg>
<div style="position:absolute;left:541.4px;top:549.7px;width:135.2px;height:126.7px;background:#fff;box-shadow:0 0 3px rgba(0,0,0,0.22);overflow:hidden">
<div style="position:absolute;right:0;top:0;width:14.2px;height:126.7px;background:#fafafa"></div>
<div style="position:absolute;left:0;top:19.1px;width:121px;height:75.5px;background:#c4c4c4"></div>
<div style="position:absolute;left:0;top:120.5px;width:121px;height:8px;background:#c4c4c4"></div>
<div class="t" style="left:10.00px;top:26.30px;font-size:12px;color:#f4f4f4;letter-spacing:0.025px;">OBM Administrator</div>
<div class="t" style="left:10.00px;top:51.30px;font-size:12px;color:#f4f4f4;letter-spacing:-0.286px;">OBM lead</div>
<div class="t" style="left:10.00px;top:76.30px;font-size:12px;color:#f4f4f4;letter-spacing:-0.123px;">OBM Substitute</div>
<div class="t" style="left:9.00px;top:101.30px;font-size:12px;color:#333;letter-spacing:-0.267px;">Head of QA</div>
<svg style="position:absolute;left:121px;top:0" width="14.2" height="126.7" viewBox="0 0 14.2 126.7"><polygon points="2.6,11 7.1,4.9 11.6,11" fill="#8a8a8a"/><polygon points="2.6,116.6 7.1,122.8 11.6,116.6" fill="#8a8a8a"/><rect x="3.2" y="17.2" width="8.2" height="36" rx="4" fill="#8a8a8a"/></svg>
</div>
<div style="position:absolute;left:602px;top:693.2px;width:14px;height:14px;box-sizing:border-box;border:2px solid #c9c9c9;border-radius:2px;background:#fff"></div>
<div style="position:absolute;left:604.1px;top:731.8px;width:14px;height:14px;box-sizing:border-box;border:2px solid #c4c4c4;border-radius:2px;background:#fff"></div>
<svg style="position:absolute;left:668.8px;top:728.4px" width="13.5" height="13.5" viewBox="0 0 13.5 13.5"><path d="M1.7,11.8 L7,6.5" stroke="#a6a6a6" stroke-width="2.7" stroke-linecap="round"/><circle cx="9.1" cy="4.4" r="3.7" fill="#a6a6a6"/><circle cx="9.9" cy="3.6" r="1.45" fill="#fff"/><rect x="-1.2" y="-4.5" width="2.4" height="4.5" fill="#fff" transform="translate(9.9,3.6) rotate(45)"/></svg>
<div class="t" style="left:769.80px;top:211.00px;font-size:11.5px;color:#444;">T</div>
<svg style="position:absolute;left:706.1px;top:246.7px" width="15" height="14.2" viewBox="0 0 15 14.2"><path d="M0,7.1 L6.9,0 L6.9,4.3 L14.9,4.3 L14.9,10.3 L6.9,10.3 L6.9,14.2 Z" fill="#3b93cf"/></svg>
<svg style="position:absolute;left:766.4px;top:246.2px" width="12.2" height="15.2" viewBox="0 0 12.2 15.2"><rect x="4" y="0" width="4.2" height="1.5" rx="0.6" fill="#d23f3f"/><rect x="0" y="0.9" width="12.2" height="2.3" rx="0.8" fill="#d23f3f"/><path d="M0.9,3.7 H11.3 V13.6 Q11.3,15.2 9.7,15.2 H2.5 Q0.9,15.2 0.9,13.6 Z" fill="#d23f3f"/><path d="M4.3,7.6 L7.9,11.2 M7.9,7.6 L4.3,11.2" stroke="#fff" stroke-width="1.3"/></svg>
<svg style="position:absolute;left:824.6px;top:246.7px" width="15" height="14.2" viewBox="0 0 15 14.2"><path d="M14.9,7.1 L8,0 L8,4.3 L0,4.3 L0,10.3 L8,10.3 L8,14.2 Z" fill="#3b93cf"/></svg>
<div style="position:absolute;left:765.3px;top:289.6px;width:14px;height:14px;box-sizing:border-box;border:2px solid #6a6a6a;border-radius:2px;background:#fff"></div>
<div style="position:absolute;left:698px;top:324.4px;width:149px;height:18.7px;background:#fff;box-shadow:0 1px 3px rgba(0,0,0,0.22);overflow:hidden">
<div style="position:absolute;left:0;top:0;width:149px;height:18.7px;overflow:hidden">
<div class="t" style="left:-0.50px;top:2.60px;font-size:13px;color:#333;letter-spacing:0.413px;">MMS/GMS Art. No.</div>
</div>
</div>
<div style="position:absolute;left:698px;top:362.2px;width:149px;height:18px;background:#fff;box-shadow:0 1px 3px rgba(0,0,0,0.22);overflow:hidden">
<div style="position:absolute;left:0;top:0;width:135px;height:18px;overflow:hidden">
<div class="t" style="left:3.20px;top:2.80px;font-size:12px;color:#858585;letter-spacing:0.023px;">MGB Number</div>
</div>
<svg style="position:absolute;left:137px;top:5.9px" width="9.5" height="6" viewBox="0 0 9.5 6"><path d="M1,1 L4.75,4.6 L8.5,1" stroke="#6a6a6a" stroke-width="2" fill="none"/></svg>
</div>
<div style="position:absolute;left:698px;top:399px;width:149px;height:19px;background:#fff;box-shadow:0 1px 3px rgba(0,0,0,0.22);overflow:hidden">
<div style="position:absolute;left:0;top:0;width:135px;height:19px;overflow:hidden">
<div class="t" style="left:3.70px;top:3.00px;font-size:12px;color:#3a3a3a;">Answer</div>
</div>
<svg style="position:absolute;left:137px;top:6.4px" width="9.5" height="6" viewBox="0 0 9.5 6"><path d="M1,1 L4.75,4.6 L8.5,1" stroke="#333" stroke-width="2" fill="none"/></svg>
</div>
<div style="position:absolute;left:698px;top:436.8px;width:149px;height:18.6px;background:#fff;box-shadow:0 1px 3px rgba(0,0,0,0.22);overflow:hidden">
<div style="position:absolute;left:0;top:0;width:135px;height:18.6px;overflow:hidden">
<div class="t" style="left:3.70px;top:3.20px;font-size:12px;color:#888;">Text</div>
</div>
<svg style="position:absolute;left:137px;top:6.2px" width="9.5" height="6" viewBox="0 0 9.5 6"><path d="M1,1 L4.75,4.6 L8.5,1" stroke="#6a6a6a" stroke-width="2" fill="none"/></svg>
</div>
<svg style="position:absolute;left:832.8px;top:466.8px" width="13.5" height="13.5" viewBox="0 0 13.5 13.5"><path d="M1.7,11.8 L7,6.5" stroke="#6b6b6b" stroke-width="2.7" stroke-linecap="round"/><circle cx="9.1" cy="4.4" r="3.7" fill="#6b6b6b"/><circle cx="9.9" cy="3.6" r="1.45" fill="#fff"/><rect x="-1.2" y="-4.5" width="2.4" height="4.5" fill="#fff" transform="translate(9.9,3.6) rotate(45)"/></svg>
<div style="position:absolute;left:704.9px;top:549.7px;width:135.2px;height:126.7px;background:#fff;box-shadow:0 0 3px rgba(0,0,0,0.22);overflow:hidden">
<div style="position:absolute;right:0;top:0;width:14.2px;height:126.7px;background:#fafafa"></div>
<div style="position:absolute;left:0;top:19.1px;width:121px;height:75.5px;background:#c4c4c4"></div>
<div style="position:absolute;left:0;top:120.5px;width:121px;height:8px;background:#c4c4c4"></div>
<div class="t" style="left:10.00px;top:26.30px;font-size:12px;color:#f4f4f4;letter-spacing:0.025px;">OBM Administrator</div>
<div class="t" style="left:10.00px;top:51.30px;font-size:12px;color:#f4f4f4;letter-spacing:-0.286px;">OBM lead</div>
<div class="t" style="left:10.00px;top:76.30px;font-size:12px;color:#f4f4f4;letter-spacing:-0.123px;">OBM Substitute</div>
<div class="t" style="left:9.00px;top:101.30px;font-size:12px;color:#333;letter-spacing:-0.267px;">Head of QA</div>
<svg style="position:absolute;left:121px;top:0" width="14.2" height="126.7" viewBox="0 0 14.2 126.7"><polygon points="2.6,11 7.1,4.9 11.6,11" fill="#8a8a8a"/><polygon points="2.6,116.6 7.1,122.8 11.6,116.6" fill="#8a8a8a"/><rect x="3.2" y="17.2" width="8.2" height="36" rx="4" fill="#8a8a8a"/></svg>
</div>
<div style="position:absolute;left:765.5px;top:693.2px;width:14px;height:14px;box-sizing:border-box;border:2px solid #c9c9c9;border-radius:2px;background:#fff"></div>
<div style="position:absolute;left:767.6px;top:731.8px;width:14px;height:14px;box-sizing:border-box;border:2px solid #c4c4c4;border-radius:2px;background:#fff"></div>
<svg style="position:absolute;left:832.8px;top:728.4px" width="13.5" height="13.5" viewBox="0 0 13.5 13.5"><path d="M1.7,11.8 L7,6.5" stroke="#a6a6a6" stroke-width="2.7" stroke-linecap="round"/><circle cx="9.1" cy="4.4" r="3.7" fill="#a6a6a6"/><circle cx="9.9" cy="3.6" r="1.45" fill="#fff"/><rect x="-1.2" y="-4.5" width="2.4" height="4.5" fill="#fff" transform="translate(9.9,3.6) rotate(45)"/></svg>
<div class="t" style="left:932.30px;top:211.00px;font-size:11.5px;color:#444;">U</div>
<svg style="position:absolute;left:870.1px;top:246.7px" width="15" height="14.2" viewBox="0 0 15 14.2"><path d="M0,7.1 L6.9,0 L6.9,4.3 L14.9,4.3 L14.9,10.3 L6.9,10.3 L6.9,14.2 Z" fill="#3b93cf"/></svg>
<svg style="position:absolute;left:929.9px;top:246.2px" width="12.2" height="15.2" viewBox="0 0 12.2 15.2"><rect x="4" y="0" width="4.2" height="1.5" rx="0.6" fill="#d23f3f"/><rect x="0" y="0.9" width="12.2" height="2.3" rx="0.8" fill="#d23f3f"/><path d="M0.9,3.7 H11.3 V13.6 Q11.3,15.2 9.7,15.2 H2.5 Q0.9,15.2 0.9,13.6 Z" fill="#d23f3f"/><path d="M4.3,7.6 L7.9,11.2 M7.9,7.6 L4.3,11.2" stroke="#fff" stroke-width="1.3"/></svg>
<svg style="position:absolute;left:987.6px;top:246.7px" width="15" height="14.2" viewBox="0 0 15 14.2"><path d="M14.9,7.1 L8,0 L8,4.3 L0,4.3 L0,10.3 L8,10.3 L8,14.2 Z" fill="#3b93cf"/></svg>
<div style="position:absolute;left:928.8px;top:289.6px;width:14px;height:14px;box-sizing:border-box;border:2px solid #6a6a6a;border-radius:2px;background:#fff"></div>
<div style="position:absolute;left:862px;top:324.4px;width:148px;height:18.7px;background:#fff;box-shadow:0 1px 3px rgba(0,0,0,0.22);overflow:hidden">
<div style="position:absolute;left:0;top:0;width:148px;height:18.7px;overflow:hidden">
<div class="t" style="left:0.50px;top:2.60px;font-size:13px;color:#333;letter-spacing:0.400px;">Var. No.</div>
</div>
</div>
<div style="position:absolute;left:862px;top:362.2px;width:148px;height:18px;background:#fff;box-shadow:0 1px 3px rgba(0,0,0,0.22);overflow:hidden">
<div style="position:absolute;left:0;top:0;width:134px;height:18px;overflow:hidden">
<div class="t" style="left:4.20px;top:2.80px;font-size:12px;color:#858585;letter-spacing:-0.031px;">Variant Number</div>
</div>
<svg style="position:absolute;left:136px;top:5.9px" width="9.5" height="6" viewBox="0 0 9.5 6"><path d="M1,1 L4.75,4.6 L8.5,1" stroke="#6a6a6a" stroke-width="2" fill="none"/></svg>
</div>
<div style="position:absolute;left:862px;top:399px;width:148px;height:19px;background:#fff;box-shadow:0 1px 3px rgba(0,0,0,0.22);overflow:hidden">
<div style="position:absolute;left:0;top:0;width:134px;height:19px;overflow:hidden">
<div class="t" style="left:3.70px;top:3.00px;font-size:12px;color:#3a3a3a;">Answer</div>
</div>
<svg style="position:absolute;left:136px;top:6.4px" width="9.5" height="6" viewBox="0 0 9.5 6"><path d="M1,1 L4.75,4.6 L8.5,1" stroke="#333" stroke-width="2" fill="none"/></svg>
</div>
<div style="position:absolute;left:862px;top:436.8px;width:148px;height:18.6px;background:#fff;box-shadow:0 1px 3px rgba(0,0,0,0.22);overflow:hidden">
<div style="position:absolute;left:0;top:0;width:134px;height:18.6px;overflow:hidden">
<div class="t" style="left:3.70px;top:3.20px;font-size:12px;color:#888;">Text</div>
</div>
<svg style="position:absolute;left:136px;top:6.2px" width="9.5" height="6" viewBox="0 0 9.5 6"><path d="M1,1 L4.75,4.6 L8.5,1" stroke="#6a6a6a" stroke-width="2" fill="none"/></svg>
</div>
<svg style="position:absolute;left:995.8px;top:466.8px" width="13.5" height="13.5" viewBox="0 0 13.5 13.5"><path d="M1.7,11.8 L7,6.5" stroke="#6b6b6b" stroke-width="2.7" stroke-linecap="round"/><circle cx="9.1" cy="4.4" r="3.7" fill="#6b6b6b"/><circle cx="9.9" cy="3.6" r="1.45" fill="#fff"/><rect x="-1.2" y="-4.5" width="2.4" height="4.5" fill="#fff" transform="translate(9.9,3.6) rotate(45)"/></svg>
<div style="position:absolute;left:868.4px;top:549.7px;width:135.2px;height:126.7px;background:#fff;box-shadow:0 0 3px rgba(0,0,0,0.22);overflow:hidden">
<div style="position:absolute;right:0;top:0;width:14.2px;height:126.7px;background:#fafafa"></div>
<div style="position:absolute;left:0;top:19.1px;width:121px;height:75.5px;background:#c4c4c4"></div>
<div style="position:absolute;left:0;top:120.5px;width:121px;height:8px;background:#c4c4c4"></div>
<div class="t" style="left:10.00px;top:26.30px;font-size:12px;color:#f4f4f4;letter-spacing:0.025px;">OBM Administrator</div>
<div class="t" style="left:10.00px;top:51.30px;font-size:12px;color:#f4f4f4;letter-spacing:-0.286px;">OBM lead</div>
<div class="t" style="left:10.00px;top:76.30px;font-size:12px;color:#f4f4f4;letter-spacing:-0.123px;">OBM Substitute</div>
<div class="t" style="left:9.00px;top:101.30px;font-size:12px;color:#333;letter-spacing:-0.267px;">Head of QA</div>
<svg style="position:absolute;left:121px;top:0" width="14.2" height="126.7" viewBox="0 0 14.2 126.7"><polygon points="2.6,11 7.1,4.9 11.6,11" fill="#8a8a8a"/><polygon points="2.6,116.6 7.1,122.8 11.6,116.6" fill="#8a8a8a"/><rect x="3.2" y="17.2" width="8.2" height="36" rx="4" fill="#8a8a8a"/></svg>
</div>
<div style="position:absolute;left:929px;top:693.2px;width:14px;height:14px;box-sizing:border-box;border:2px solid #c9c9c9;border-radius:2px;background:#fff"></div>
<div style="position:absolute;left:931.1px;top:731.8px;width:14px;height:14px;box-sizing:border-box;border:2px solid #c4c4c4;border-radius:2px;background:#fff"></div>
<svg style="position:absolute;left:995.8px;top:728.4px" width="13.5" height="13.5" viewBox="0 0 13.5 13.5"><path d="M1.7,11.8 L7,6.5" stroke="#a6a6a6" stroke-width="2.7" stroke-linecap="round"/><circle cx="9.1" cy="4.4" r="3.7" fill="#a6a6a6"/><circle cx="9.9" cy="3.6" r="1.45" fill="#fff"/><rect x="-1.2" y="-4.5" width="2.4" height="4.5" fill="#fff" transform="translate(9.9,3.6) rotate(45)"/></svg>
<div class="t" style="left:1089.30px;top:211.00px;font-size:11.5px;color:#444;">V</div>
<svg style="position:absolute;left:1033.1px;top:246.7px" width="15" height="14.2" viewBox="0 0 15 14.2"><path d="M0,7.1 L6.9,0 L6.9,4.3 L14.9,4.3 L14.9,10.3 L6.9,10.3 L6.9,14.2 Z" fill="#3b93cf"/></svg>
<svg style="position:absolute;left:1086.4px;top:246.2px" width="12.2" height="15.2" viewBox="0 0 12.2 15.2"><rect x="4" y="0" width="4.2" height="1.5" rx="0.6" fill="#d23f3f"/><rect x="0" y="0.9" width="12.2" height="2.3" rx="0.8" fill="#d23f3f"/><path d="M0.9,3.7 H11.3 V13.6 Q11.3,15.2 9.7,15.2 H2.5 Q0.9,15.2 0.9,13.6 Z" fill="#d23f3f"/><path d="M4.3,7.6 L7.9,11.2 M7.9,7.6 L4.3,11.2" stroke="#fff" stroke-width="1.3"/></svg>
<svg style="position:absolute;left:1137.6px;top:246.7px" width="15" height="14.2" viewBox="0 0 15 14.2"><path d="M14.9,7.1 L8,0 L8,4.3 L0,4.3 L0,10.3 L8,10.3 L8,14.2 Z" fill="#3b93cf"/></svg>
<div style="position:absolute;left:1085.3px;top:289.6px;width:14px;height:14px;box-sizing:border-box;border:2px solid #6a6a6a;border-radius:2px;background:#fff"></div>
<div style="position:absolute;left:1025px;top:324.4px;width:135px;height:18.7px;background:#fff;box-shadow:0 1px 3px rgba(0,0,0,0.22);overflow:hidden">
<div style="position:absolute;left:0;top:0;width:135px;height:18.7px;overflow:hidden">
<div class="t" style="left:-0.50px;top:2.60px;font-size:13px;color:#333;letter-spacing:0.415px;">Price per unit</div>
</div>
</div>
<div style="position:absolute;left:1025px;top:362.2px;width:135px;height:18px;background:#fff;box-shadow:0 1px 3px rgba(0,0,0,0.22);overflow:hidden">
<svg style="position:absolute;left:123px;top:5.9px" width="9.5" height="6" viewBox="0 0 9.5 6"><path d="M1,1 L4.75,4.6 L8.5,1" stroke="#6a6a6a" stroke-width="2" fill="none"/></svg>
</div>
<div style="position:absolute;left:1025px;top:399px;width:135px;height:19px;background:#fff;box-shadow:0 1px 3px rgba(0,0,0,0.22);overflow:hidden">
<div style="position:absolute;left:0;top:0;width:121px;height:19px;overflow:hidden">
<div class="t" style="left:3.70px;top:3.00px;font-size:12px;color:#3a3a3a;">Answer</div>
</div>
<svg style="position:absolute;left:123px;top:6.4px" width="9.5" height="6" viewBox="0 0 9.5 6"><path d="M1,1 L4.75,4.6 L8.5,1" stroke="#333" stroke-width="2" fill="none"/></svg>
</div>
<div style="position:absolute;left:1025px;top:436.8px;width:135px;height:18.6px;background:#fff;box-shadow:0 1px 3px rgba(0,0,0,0.22);overflow:hidden">
<div style="position:absolute;left:0;top:0;width:121px;height:18.6px;overflow:hidden">
<div class="t" style="left:2.70px;top:3.20px;font-size:12px;color:#333;">Price</div>
</div>
<svg style="position:absolute;left:123px;top:6.2px" width="9.5" height="6" viewBox="0 0 9.5 6"><path d="M1,1 L4.75,4.6 L8.5,1" stroke="#333" stroke-width="2" fill="none"/></svg>
</div>
<svg style="position:absolute;left:1145.8px;top:466.8px" width="13.5" height="13.5" viewBox="0 0 13.5 13.5"><path d="M1.7,11.8 L7,6.5" stroke="#6b6b6b" stroke-width="2.7" stroke-linecap="round"/><circle cx="9.1" cy="4.4" r="3.7" fill="#6b6b6b"/><circle cx="9.9" cy="3.6" r="1.45" fill="#fff"/><rect x="-1.2" y="-4.5" width="2.4" height="4.5" fill="#fff" transform="translate(9.9,3.6) rotate(45)"/></svg>
<div style="position:absolute;left:1024.9px;top:549.7px;width:135.2px;height:126.7px;background:#fff;box-shadow:0 0 3px rgba(0,0,0,0.22);overflow:hidden">
<div style="position:absolute;right:0;top:0;width:14.2px;height:126.7px;background:#fafafa"></div>
<div style="position:absolute;left:0;top:101.8px;width:121px;height:25px;background:#c4c4c4"></div>
<div class="t" style="left:10.00px;top:6.30px;font-size:12px;color:#333;letter-spacing:-0.286px;">OBM lead</div>
<div class="t" style="left:10.00px;top:32.30px;font-size:12px;color:#333;letter-spacing:-0.123px;">OBM Substitute</div>
<div class="t" style="left:9.00px;top:57.30px;font-size:12px;color:#333;letter-spacing:-0.267px;">Head of QA</div>
<div class="t" style="left:10.00px;top:82.30px;font-size:12px;color:#333;letter-spacing:-0.043px;">OBM participant</div>
<div class="t" style="left:10.00px;top:108.30px;font-size:12px;color:#f4f4f4;letter-spacing:-0.250px;">Quality_Assurance</div>
<svg style="position:absolute;left:121px;top:0" width="14.2" height="126.7" viewBox="0 0 14.2 126.7"><polygon points="2.6,11 7.1,4.9 11.6,11" fill="#8a8a8a"/><polygon points="2.6,116.6 7.1,122.8 11.6,116.6" fill="#8a8a8a"/><rect x="3.2" y="29.3" width="8.2" height="36" rx="4" fill="#8a8a8a"/></svg>
</div>
<div style="position:absolute;left:1085.5px;top:693.2px;width:14px;height:14px;box-sizing:border-box;border:2px solid #c9c9c9;border-radius:2px;background:#fff"></div>
<div style="position:absolute;left:1087.3px;top:731.8px;width:14px;height:14px;background:#26a69a;border-radius:2px"><svg width="14" height="14" viewBox="0 0 14 14" style="position:absolute;left:0;top:0"><path d="M2.8,7.2 L5.7,10.2 L11.4,3.2" stroke="#fff" stroke-width="2.1" fill="none"/></svg></div>
<svg style="position:absolute;left:1145.8px;top:728.4px" width="13.5" height="13.5" viewBox="0 0 13.5 13.5"><path d="M1.7,11.8 L7,6.5" stroke="#6b6b6b" stroke-width="2.7" stroke-linecap="round"/><circle cx="9.1" cy="4.4" r="3.7" fill="#6b6b6b"/><circle cx="9.9" cy="3.6" r="1.45" fill="#fff"/><rect x="-1.2" y="-4.5" width="2.4" height="4.5" fill="#fff" transform="translate(9.9,3.6) rotate(45)"/></svg>
<div class="t" style="left:1237.80px;top:211.00px;font-size:11.5px;color:#444;">W</div>
<svg style="position:absolute;left:1183.1px;top:246.7px" width="15" height="14.2" viewBox="0 0 15 14.2"><path d="M0,7.1 L6.9,0 L6.9,4.3 L14.9,4.3 L14.9,10.3 L6.9,10.3 L6.9,14.2 Z" fill="#3b93cf"/></svg>
<svg style="position:absolute;left:1236.4px;top:246.2px" width="12.2" height="15.2" viewBox="0 0 12.2 15.2"><rect x="4" y="0" width="4.2" height="1.5" rx="0.6" fill="#d23f3f"/><rect x="0" y="0.9" width="12.2" height="2.3" rx="0.8" fill="#d23f3f"/><path d="M0.9,3.7 H11.3 V13.6 Q11.3,15.2 9.7,15.2 H2.5 Q0.9,15.2 0.9,13.6 Z" fill="#d23f3f"/><path d="M4.3,7.6 L7.9,11.2 M7.9,7.6 L4.3,11.2" stroke="#fff" stroke-width="1.3"/></svg>
<svg style="position:absolute;left:1287.6px;top:246.7px" width="15" height="14.2" viewBox="0 0 15 14.2"><path d="M14.9,7.1 L8,0 L8,4.3 L0,4.3 L0,10.3 L8,10.3 L8,14.2 Z" fill="#3b93cf"/></svg>
<div style="position:absolute;left:1235.3px;top:289.6px;width:14px;height:14px;box-sizing:border-box;border:2px solid #6a6a6a;border-radius:2px;background:#fff"></div>
<div style="position:absolute;left:1175px;top:324.4px;width:135px;height:18.7px;background:#fff;box-shadow:0 1px 3px rgba(0,0,0,0.22);overflow:hidden">
<div style="position:absolute;left:0;top:0;width:135px;height:18.7px;overflow:hidden">
<div class="t" style="left:0.50px;top:2.60px;font-size:13px;color:#333;letter-spacing:0.512px;">Awarding Quantity</div>
</div>
</div>
<div style="position:absolute;left:1175px;top:362.2px;width:135px;height:18px;background:#fff;box-shadow:0 1px 3px rgba(0,0,0,0.22);overflow:hidden">
<div style="position:absolute;left:0;top:0;width:121px;height:18px;overflow:hidden">
<div class="t" style="left:4.20px;top:2.80px;font-size:12px;color:#858585;letter-spacing:0.075px;">Awarding quantity</div>
</div>
<svg style="position:absolute;left:123px;top:5.9px" width="9.5" height="6" viewBox="0 0 9.5 6"><path d="M1,1 L4.75,4.6 L8.5,1" stroke="#6a6a6a" stroke-width="2" fill="none"/></svg>
</div>
<div style="position:absolute;left:1175px;top:399px;width:135px;height:19px;background:#fff;box-shadow:0 1px 3px rgba(0,0,0,0.22);overflow:hidden">
<div style="position:absolute;left:0;top:0;width:121px;height:19px;overflow:hidden">
<div class="t" style="left:2.70px;top:3.00px;font-size:12px;color:#3a3a3a;">Display</div>
</div>
<svg style="position:absolute;left:123px;top:6.4px" width="9.5" height="6" viewBox="0 0 9.5 6"><path d="M1,1 L4.75,4.6 L8.5,1" stroke="#333" stroke-width="2" fill="none"/></svg>
</div>
<div style="position:absolute;left:1175px;top:436.8px;width:135px;height:18.6px;background:#fff;box-shadow:0 1px 3px rgba(0,0,0,0.22);overflow:hidden">
<div style="position:absolute;left:0;top:0;width:121px;height:18.6px;overflow:hidden">
<div class="t" style="left:2.70px;top:3.20px;font-size:12px;color:#888;">Number</div>
</div>
<svg style="position:absolute;left:123px;top:6.2px" width="9.5" height="6" viewBox="0 0 9.5 6"><path d="M1,1 L4.75,4.6 L8.5,1" stroke="#6a6a6a" stroke-width="2" fill="none"/></svg>
</div>
<svg style="position:absolute;left:1295.8px;top:466.8px" width="13.5" height="13.5" viewBox="0 0 13.5 13.5"><path d="M1.7,11.8 L7,6.5" stroke="#6b6b6b" stroke-width="2.7" stroke-linecap="round"/><circle cx="9.1" cy="4.4" r="3.7" fill="#6b6b6b"/><circle cx="9.9" cy="3.6" r="1.45" fill="#fff"/><rect x="-1.2" y="-4.5" width="2.4" height="4.5" fill="#fff" transform="translate(9.9,3.6) rotate(45)"/></svg>
<div style="position:absolute;left:1174.9px;top:549.7px;width:135.2px;height:126.7px;background:#fff;box-shadow:0 0 3px rgba(0,0,0,0.22);overflow:hidden">
<div style="position:absolute;right:0;top:0;width:14.2px;height:126.7px;background:#fafafa"></div>
<div style="position:absolute;left:0;top:19.1px;width:121px;height:75.5px;background:#c4c4c4"></div>
<div style="position:absolute;left:0;top:120.5px;width:121px;height:8px;background:#c4c4c4"></div>
<div class="t" style="left:10.00px;top:26.30px;font-size:12px;color:#f4f4f4;letter-spacing:0.025px;">OBM Administrator</div>
<div class="t" style="left:10.00px;top:51.30px;font-size:12px;color:#f4f4f4;letter-spacing:-0.286px;">OBM lead</div>
<div class="t" style="left:10.00px;top:76.30px;font-size:12px;color:#f4f4f4;letter-spacing:-0.123px;">OBM Substitute</div>
<div class="t" style="left:9.00px;top:101.30px;font-size:12px;color:#333;letter-spacing:-0.267px;">Head of QA</div>
<svg style="position:absolute;left:121px;top:0" width="14.2" height="126.7" viewBox="0 0 14.2 126.7"><polygon points="2.6,11 7.1,4.9 11.6,11" fill="#8a8a8a"/><polygon points="2.6,116.6 7.1,122.8 11.6,116.6" fill="#8a8a8a"/><rect x="3.2" y="17.2" width="8.2" height="36" rx="4" fill="#8a8a8a"/></svg>
</div>
<div style="position:absolute;left:1235.5px;top:693.1px;width:14px;height:14px;background:#26a69a;border-radius:2px"><svg width="14" height="14" viewBox="0 0 14 14" style="position:absolute;left:0;top:0"><path d="M2.8,7.2 L5.7,10.2 L11.4,3.2" stroke="#fff" stroke-width="2.1" fill="none"/></svg></div>
<div style="position:absolute;left:1237.6px;top:731.8px;width:14px;height:14px;box-sizing:border-box;border:2px solid #c4c4c4;border-radius:2px;background:#fff"></div>
<svg style="position:absolute;left:1295.8px;top:728.4px" width="13.5" height="13.5" viewBox="0 0 13.5 13.5"><path d="M1.7,11.8 L7,6.5" stroke="#a6a6a6" stroke-width="2.7" stroke-linecap="round"/><circle cx="9.1" cy="4.4" r="3.7" fill="#a6a6a6"/><circle cx="9.9" cy="3.6" r="1.45" fill="#fff"/><rect x="-1.2" y="-4.5" width="2.4" height="4.5" fill="#fff" transform="translate(9.9,3.6) rotate(45)"/></svg>
<div class="t" style="left:1389.80px;top:211.00px;font-size:11.5px;color:#444;">X</div>
<svg style="position:absolute;left:1333.1px;top:246.7px" width="15" height="14.2" viewBox="0 0 15 14.2"><path d="M0,7.1 L6.9,0 L6.9,4.3 L14.9,4.3 L14.9,10.3 L6.9,10.3 L6.9,14.2 Z" fill="#3b93cf"/></svg>
<svg style="position:absolute;left:1386.9px;top:246.2px" width="12.2" height="15.2" viewBox="0 0 12.2 15.2"><rect x="4" y="0" width="4.2" height="1.5" rx="0.6" fill="#d23f3f"/><rect x="0" y="0.9" width="12.2" height="2.3" rx="0.8" fill="#d23f3f"/><path d="M0.9,3.7 H11.3 V13.6 Q11.3,15.2 9.7,15.2 H2.5 Q0.9,15.2 0.9,13.6 Z" fill="#d23f3f"/><path d="M4.3,7.6 L7.9,11.2 M7.9,7.6 L4.3,11.2" stroke="#fff" stroke-width="1.3"/></svg>
<svg style="position:absolute;left:1438.6px;top:246.7px" width="15" height="14.2" viewBox="0 0 15 14.2"><path d="M14.9,7.1 L8,0 L8,4.3 L0,4.3 L0,10.3 L8,10.3 L8,14.2 Z" fill="#3b93cf"/></svg>
<div style="position:absolute;left:1385.8px;top:289.6px;width:14px;height:14px;box-sizing:border-box;border:2px solid #6a6a6a;border-radius:2px;background:#fff"></div>
<div style="position:absolute;left:1325px;top:324.4px;width:136px;height:18.7px;background:#fff;box-shadow:0 1px 3px rgba(0,0,0,0.22);overflow:hidden">
<div style="position:absolute;left:0;top:0;width:136px;height:18.7px;overflow:hidden">
<div class="t" style="left:-0.50px;top:2.60px;font-size:13px;color:#333;letter-spacing:0.436px;">Market Price</div>
</div>
</div>
<div style="position:absolute;left:1325px;top:362.2px;width:136px;height:18px;background:#fff;box-shadow:0 1px 3px rgba(0,0,0,0.22);overflow:hidden">
<div style="position:absolute;left:0;top:0;width:122px;height:18px;overflow:hidden">
<div class="t" style="left:3.20px;top:2.80px;font-size:12px;color:#858585;letter-spacing:0.023px;">Market price (awarding)</div>
</div>
<svg style="position:absolute;left:124px;top:5.9px" width="9.5" height="6" viewBox="0 0 9.5 6"><path d="M1,1 L4.75,4.6 L8.5,1" stroke="#6a6a6a" stroke-width="2" fill="none"/></svg>
</div>
<div style="position:absolute;left:1325px;top:399px;width:136px;height:19px;background:#fff;box-shadow:0 1px 3px rgba(0,0,0,0.22);overflow:hidden">
<div style="position:absolute;left:0;top:0;width:122px;height:19px;overflow:hidden">
<div class="t" style="left:2.70px;top:3.00px;font-size:12px;color:#3a3a3a;">Display</div>
</div>
<svg style="position:absolute;left:124px;top:6.4px" width="9.5" height="6" viewBox="0 0 9.5 6"><path d="M1,1 L4.75,4.6 L8.5,1" stroke="#333" stroke-width="2" fill="none"/></svg>
</div>
<div style="position:absolute;left:1325px;top:436.8px;width:136px;height:18.6px;background:#fff;box-shadow:0 1px 3px rgba(0,0,0,0.22);overflow:hidden">
<div style="position:absolute;left:0;top:0;width:122px;height:18.6px;overflow:hidden">
<div class="t" style="left:2.70px;top:3.20px;font-size:12px;color:#888;">Price</div>
</div>
<svg style="position:absolute;left:124px;top:6.2px" width="9.5" height="6" viewBox="0 0 9.5 6"><path d="M1,1 L4.75,4.6 L8.5,1" stroke="#6a6a6a" stroke-width="2" fill="none"/></svg>
</div>
<svg style="position:absolute;left:1446.8px;top:466.8px" width="13.5" height="13.5" viewBox="0 0 13.5 13.5"><path d="M1.7,11.8 L7,6.5" stroke="#6b6b6b" stroke-width="2.7" stroke-linecap="round"/><circle cx="9.1" cy="4.4" r="3.7" fill="#6b6b6b"/><circle cx="9.9" cy="3.6" r="1.45" fill="#fff"/><rect x="-1.2" y="-4.5" width="2.4" height="4.5" fill="#fff" transform="translate(9.9,3.6) rotate(45)"/></svg>
<div style="position:absolute;left:1325.4px;top:549.7px;width:135.2px;height:126.7px;background:#fff;box-shadow:0 0 3px rgba(0,0,0,0.22);overflow:hidden">
<div style="position:absolute;right:0;top:0;width:14.2px;height:126.7px;background:#fafafa"></div>
<div style="position:absolute;left:0;top:19.1px;width:121px;height:75.5px;background:#c4c4c4"></div>
<div style="position:absolute;left:0;top:120.5px;width:121px;height:8px;background:#c4c4c4"></div>
<div class="t" style="left:10.00px;top:26.30px;font-size:12px;color:#f4f4f4;letter-spacing:0.025px;">OBM Administrator</div>
<div class="t" style="left:10.00px;top:51.30px;font-size:12px;color:#f4f4f4;letter-spacing:-0.286px;">OBM lead</div>
<div class="t" style="left:10.00px;top:76.30px;font-size:12px;color:#f4f4f4;letter-spacing:-0.123px;">OBM Substitute</div>
<div class="t" style="left:9.00px;top:101.30px;font-size:12px;color:#333;letter-spacing:-0.267px;">Head of QA</div>
<svg style="position:absolute;left:121px;top:0" width="14.2" height="126.7" viewBox="0 0 14.2 126.7"><polygon points="2.6,11 7.1,4.9 11.6,11" fill="#8a8a8a"/><polygon points="2.6,116.6 7.1,122.8 11.6,116.6" fill="#8a8a8a"/><rect x="3.2" y="17.2" width="8.2" height="36" rx="4" fill="#8a8a8a"/></svg>
</div>
<div style="position:absolute;left:1386px;top:693.1px;width:14px;height:14px;background:#26a69a;border-radius:2px"><svg width="14" height="14" viewBox="0 0 14 14" style="position:absolute;left:0;top:0"><path d="M2.8,7.2 L5.7,10.2 L11.4,3.2" stroke="#fff" stroke-width="2.1" fill="none"/></svg></div>
<div style="position:absolute;left:1388.1px;top:731.8px;width:14px;height:14px;box-sizing:border-box;border:2px solid #c4c4c4;border-radius:2px;background:#fff"></div>
<svg style="position:absolute;left:1446.8px;top:728.4px" width="13.5" height="13.5" viewBox="0 0 13.5 13.5"><path d="M1.7,11.8 L7,6.5" stroke="#a6a6a6" stroke-width="2.7" stroke-linecap="round"/><circle cx="9.1" cy="4.4" r="3.7" fill="#a6a6a6"/><circle cx="9.9" cy="3.6" r="1.45" fill="#fff"/><rect x="-1.2" y="-4.5" width="2.4" height="4.5" fill="#fff" transform="translate(9.9,3.6) rotate(45)"/></svg>
<div class="t" style="left:117.60px;top:500.00px;font-size:12px;color:#8a8a8a;letter-spacing:-0.033px;">Decimal</div>
<div class="t" style="left:180.10px;top:500.00px;font-size:12px;color:#8a8a8a;">2</div>
<div class="t" style="left:267.80px;top:500.00px;font-size:12px;color:#8a8a8a;letter-spacing:-0.033px;">Decimal</div>
<div class="t" style="left:330.30px;top:500.00px;font-size:12px;color:#8a8a8a;">2</div>
<div class="t" style="left:384.40px;top:500.00px;font-size:12px;color:#8a8a8a;letter-spacing:-0.092px;">Selection type</div>
<div class="t" style="left:467.30px;top:500.00px;font-size:12px;color:#8a8a8a;letter-spacing:-0.040px;">Single</div>
<div class="t" style="left:539.40px;top:473.00px;font-size:12px;color:#8a8a8a;letter-spacing:0.100px;">Layout / type</div>
<div class="t" style="left:618.80px;top:473.00px;font-size:12px;color:#8a8a8a;letter-spacing:0.050px;">Textfield</div>
<div class="t" style="left:573.40px;top:500.00px;font-size:12px;color:#8a8a8a;letter-spacing:0.040px;">Height</div>
<div class="t" style="left:655.80px;top:500.00px;font-size:12px;color:#8a8a8a;">1</div>
<div class="t" style="left:571.50px;top:526.00px;font-size:12px;color:#8a8a8a;letter-spacing:0.200px;">Length</div>
<div class="t" style="left:650.00px;top:526.00px;font-size:12px;color:#8a8a8a;">35</div>
<div class="t" style="left:702.60px;top:473.00px;font-size:12px;color:#8a8a8a;letter-spacing:0.100px;">Layout / type</div>
<div class="t" style="left:782.30px;top:473.00px;font-size:12px;color:#8a8a8a;letter-spacing:0.075px;">Textfield</div>
<div class="t" style="left:736.60px;top:500.00px;font-size:12px;color:#8a8a8a;letter-spacing:0.040px;">Height</div>
<div class="t" style="left:819.60px;top:500.00px;font-size:12px;color:#8a8a8a;">1</div>
<div class="t" style="left:734.70px;top:526.00px;font-size:12px;color:#8a8a8a;letter-spacing:0.200px;">Length</div>
<div class="t" style="left:820.60px;top:526.00px;font-size:12px;color:#8a8a8a;">6</div>
<div class="t" style="left:865.90px;top:473.00px;font-size:12px;color:#8a8a8a;letter-spacing:0.067px;">Layout / type</div>
<div class="t" style="left:945.40px;top:473.00px;font-size:12px;color:#8a8a8a;letter-spacing:0.050px;">Textfield</div>
<div class="t" style="left:899.70px;top:500.00px;font-size:12px;color:#8a8a8a;letter-spacing:0.040px;">Height</div>
<div class="t" style="left:982.60px;top:500.00px;font-size:12px;color:#8a8a8a;">1</div>
<div class="t" style="left:897.80px;top:526.00px;font-size:12px;color:#8a8a8a;letter-spacing:0.200px;">Length</div>
<div class="t" style="left:982.60px;top:526.00px;font-size:12px;color:#8a8a8a;">1</div>
<div class="t" style="left:1055.90px;top:487.00px;font-size:12px;color:#8a8a8a;letter-spacing:-0.100px;">Decimal</div>
<div class="t" style="left:1125.90px;top:487.00px;font-size:12px;color:#8a8a8a;">2</div>
<div class="t" style="left:1077.70px;top:512.00px;font-size:12px;color:#8a8a8a;letter-spacing:-0.733px;">Size</div>
<div class="t" style="left:1118.90px;top:512.00px;font-size:12px;color:#8a8a8a;">10</div>
<div class="t" style="left:1212.00px;top:500.00px;font-size:12px;color:#8a8a8a;letter-spacing:0.100px;">Decimal</div>
<div class="t" style="left:1275.10px;top:500.00px;font-size:12px;color:#8a8a8a;">2</div>
<div class="t" style="left:1362.40px;top:500.00px;font-size:12px;color:#8a8a8a;letter-spacing:0.100px;">Decimal</div>
<div class="t" style="left:1425.50px;top:500.00px;font-size:12px;color:#8a8a8a;">2</div>
<div style="position:absolute;left:16px;top:197px;width:139.2px;height:558.3px;background:#e9e9e9"></div>
<div style="position:absolute;left:155px;top:197px;width:1.2px;height:558.3px;background:#cdcdcd"></div>
<div style="position:absolute;left:16px;top:197px;width:139.2px;height:1.5px;background:#bdbdbd"></div>
<div style="position:absolute;left:16px;top:234px;width:139.2px;height:1.3px;background:#c9c9c9"></div>
<div style="position:absolute;left:16px;top:276px;width:139.2px;height:1.3px;background:#c9c9c9"></div>
<div style="position:absolute;left:16px;top:314px;width:139.2px;height:1.3px;background:#c9c9c9"></div>
<div style="position:absolute;left:16px;top:351px;width:139.2px;height:1.3px;background:#c9c9c9"></div>
<div style="position:absolute;left:16px;top:389px;width:139.2px;height:1.3px;background:#c9c9c9"></div>
<div style="position:absolute;left:16px;top:426px;width:139.2px;height:1.3px;background:#c9c9c9"></div>
<div style="position:absolute;left:16px;top:464px;width:139.2px;height:1.3px;background:#c9c9c9"></div>
<div style="position:absolute;left:16px;top:547px;width:139.2px;height:1.3px;background:#c9c9c9"></div>
<div style="position:absolute;left:16px;top:680px;width:139.2px;height:1.3px;background:#c9c9c9"></div>
<div style="position:absolute;left:16px;top:718px;width:139.2px;height:1.3px;background:#c9c9c9"></div>
<div style="position:absolute;left:16px;top:755px;width:139.2px;height:1.3px;background:#c9c9c9"></div>
<div style="position:absolute;left:16px;top:197px;width:4px;height:558px;background:linear-gradient(to right, rgba(0,0,0,0.07), rgba(0,0,0,0))"></div>
<div class="t" style="left:50.70px;top:246.00px;font-size:12.5px;color:#7a7a7a;letter-spacing:-0.017px;">MOVE / DELETE</div>
<div class="t" style="left:113.20px;top:325.00px;font-size:12.5px;color:#7a7a7a;letter-spacing:-0.300px;">TITLE</div>
<div class="t" style="left:71.40px;top:363.00px;font-size:12.5px;color:#7a7a7a;letter-spacing:-0.178px;">ATTRIBUTES</div>
<div class="t" style="left:117.00px;top:400.00px;font-size:12.5px;color:#7a7a7a;letter-spacing:-1.267px;">TYPE</div>
<div class="t" style="left:54.20px;top:438.00px;font-size:12.5px;color:#7a7a7a;letter-spacing:0.067px;">LAYOUT / TYPE</div>
<div class="t" style="left:60.20px;top:475.00px;font-size:12.5px;color:#7a7a7a;letter-spacing:-0.720px;">PREFERENCES</div>
<div class="t" style="left:23.50px;top:559.00px;font-size:12.5px;color:#7a7a7a;letter-spacing:-0.053px;">HIDDEN FOR ROLES</div>
<div class="t" style="left:103.50px;top:692.00px;font-size:12.5px;color:#7a7a7a;letter-spacing:0.240px;">FILTER</div>
<div class="t" style="left:62.70px;top:729.00px;font-size:12.5px;color:#7a7a7a;letter-spacing:-0.120px;">COMPETITIVE</div>
<div style="position:absolute;left:135.8px;top:288.2px;width:14px;height:14px;box-sizing:border-box;border:2px solid #6a6a6a;border-radius:2px;background:#fff"></div>
<div style="position:absolute;left:16px;top:756px;width:1455px;height:14px;background:#f7f7f4"></div>
<div style="position:absolute;left:155.6px;top:756.2px;width:1400px;height:10.4px;background:#b6b6b6;border-radius:5.2px"></div>
<div style="position:absolute;left:1122.8px;top:756.2px;width:400px;height:10.4px;background:#767676;border-radius:5.2px"></div>
<div style="position:absolute;left:155.5px;top:732px;width:1.5px;height:13px;background:#6e6e6e"></div>
<div style="position:absolute;left:17px;top:67px;width:5px;height:703px;background:linear-gradient(to right, rgba(0,0,0,0.08), rgba(0,0,0,0))"></div>
</body></html>
